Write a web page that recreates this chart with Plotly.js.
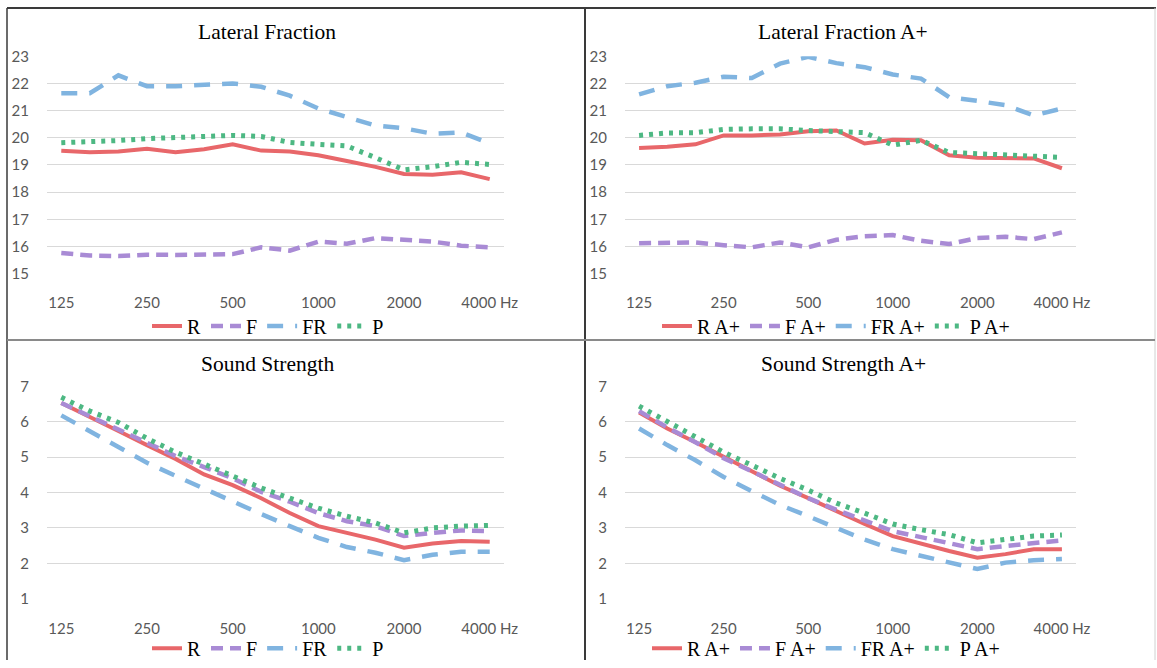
<!DOCTYPE html>
<html>
<head>
<meta charset="utf-8">
<script src="https://cdn.plot.ly/plotly-3.0.1.min.js"></script>
<style>html,body{margin:0;padding:0;background:#fff;}#chart{width:1157px;height:668px;}</style>
</head>
<body>
<div id="chart"></div>
<script>
// ---- data ----
const bands = ['125','160','200','250','315','400','500','630','800','1000','1250','1600','2000','2500','3150','4000'];
const tickBands = ['125','250','500','1000','2000','4000'];
const tickLabels = ['125','250','500','1000','2000','4000 Hz'];
const panelTitles = ['Lateral Fraction','Lateral Fraction A+','Sound Strength','Sound Strength A+'];
const seriesNames = ['R','F','FR','P'];
const seriesNamesA = ['R A+','F A+','FR A+','P A+'];

const lfR  = [19.52,19.47,19.50,19.60,19.47,19.58,19.76,19.53,19.50,19.36,19.15,18.93,18.67,18.64,18.73,18.48];
const lfF  = [15.76,15.67,15.65,15.70,15.69,15.72,15.72,15.97,15.85,16.18,16.10,16.31,16.25,16.18,16.03,15.97];
const lfFR = [21.64,21.64,22.30,21.90,21.90,21.93,22.00,21.88,21.55,21.08,20.76,20.45,20.35,20.15,20.20,19.79];
const lfP  = [19.82,19.85,19.90,19.97,20.02,20.03,20.09,20.05,19.83,19.76,19.70,19.27,18.82,18.94,19.10,19.02];

const lfaR  = [19.63,19.67,19.76,20.09,20.09,20.12,20.24,20.27,19.79,19.93,19.91,19.36,19.27,19.27,19.24,18.88];
const lfaF  = [16.12,16.12,16.15,16.05,15.97,16.15,15.97,16.25,16.38,16.42,16.21,16.09,16.31,16.36,16.27,16.52];
const lfaFR = [21.60,21.90,22.03,22.25,22.20,22.73,22.98,22.75,22.60,22.33,22.18,21.50,21.36,21.20,20.82,21.08];
const lfaP  = [20.09,20.18,20.19,20.31,20.33,20.33,20.27,20.24,20.19,19.73,19.91,19.46,19.42,19.36,19.36,19.28];

const ssR  = [6.53,6.12,5.74,5.34,4.95,4.51,4.21,3.84,3.42,3.05,2.86,2.67,2.44,2.56,2.63,2.61];
const ssF  = [6.53,6.16,5.79,5.42,5.03,4.72,4.40,4.02,3.74,3.42,3.19,3.05,2.77,2.86,2.93,2.91];
const ssFR = [6.18,5.74,5.30,4.84,4.47,4.10,3.74,3.39,3.05,2.72,2.46,2.30,2.09,2.24,2.33,2.33];
const ssP  = [6.69,6.30,5.98,5.53,5.14,4.81,4.49,4.13,3.84,3.56,3.33,3.14,2.86,3.00,3.05,3.07];

const ssaR  = [6.26,5.81,5.42,5.00,4.58,4.19,3.84,3.47,3.11,2.77,2.55,2.35,2.16,2.26,2.40,2.40];
const ssaF  = [6.30,5.84,5.42,4.97,4.60,4.21,3.84,3.51,3.20,2.91,2.74,2.58,2.40,2.49,2.58,2.65];
const ssaFR = [5.81,5.34,4.91,4.44,4.04,3.65,3.33,3.00,2.67,2.40,2.21,2.02,1.84,2.02,2.09,2.12];
const ssaP  = [6.44,6.02,5.56,5.14,4.77,4.40,4.07,3.70,3.42,3.11,2.95,2.81,2.58,2.67,2.77,2.80];

// ---- styling ----
const W = 1157, H = 668;
const px = v => v / W;
const py = v => 1 - v / H;
const styles = [
  {color:'#E8676A', width:4, dash:'solid'},
  {color:'#A98BD5', width:4.5, dash:'12px,7px'},
  {color:'#80B4E0', width:4.5, dash:'16px,12px'},
  {color:'#4DB883', width:5, dash:'4px,6px'}
];
const panels = [
  {series:[lfR,lfF,lfFR,lfP], names:seriesNames, ax:'', x:[47,504], y:[57,277], range:[15,23], xlen:15},
  {series:[lfaR,lfaF,lfaFR,lfaP], names:seriesNamesA, ax:'2', x:[625,1076], y:[57,277], range:[15,23], xlen:15},
  {series:[ssR,ssF,ssFR,ssP], names:seriesNames, ax:'3', x:[47,504], y:[391,606], range:[1,7], xlen:16},
  {series:[ssaR,ssaF,ssaFR,ssaP], names:seriesNamesA, ax:'4', x:[625,1076], y:[391,606], range:[1,7], xlen:16}
];
const titlePos = [[267,32],[843,32],[267,368],[843,368]];
const legendPos = [[268,330],[836,330],[268,656],[826,656]];

const traces = [];
const layout = {
  width: W, height: H,
  margin: {l:0, r:0, t:0, b:0},
  paper_bgcolor: '#fff', plot_bgcolor: '#fff',
  annotations: [], shapes: []
};
const tickFont = {family:'Lato, "Open Sans", sans-serif', size:15, color:'#595959'};
const serif = '"Liberation Serif", "Times New Roman", serif';

panels.forEach((p, k) => {
  const legName = k === 0 ? 'legend' : 'legend' + (k + 1);
  p.series.forEach((vals, s) => {
    traces.push({
      type:'scatter', mode:'lines', x:bands, y:vals, name:p.names[s],
      xaxis:'x' + p.ax, yaxis:'y' + p.ax, legend:legName,
      line:{color:styles[s].color, width:styles[s].width, dash:styles[s].dash},
      hoverinfo:'skip'
    });
  });
  layout['xaxis' + p.ax] = {
    domain:[px(p.x[0]), px(p.x[1])], anchor:'y' + p.ax,
    type:'category', categoryorder:'array', categoryarray:bands,
    range:[-0.5, 15.5], tickvals:tickBands, ticktext:tickLabels,
    showgrid:false, zeroline:false, showline:false,
    ticks:'outside', ticklen:p.xlen, tickcolor:'rgba(0,0,0,0)',
    tickfont:tickFont, fixedrange:true
  };
  layout['yaxis' + p.ax] = {
    domain:[py(p.y[1]), py(p.y[0])], anchor:'x' + p.ax,
    range:p.range, dtick:1, tick0:p.range[0],
    showgrid:true, gridcolor:'#D9D9D9', gridwidth:1,
    zeroline:false, showline:false,
    ticks:'outside', ticklen:14, tickcolor:'rgba(0,0,0,0)',
    tickfont:tickFont, fixedrange:true
  };
  layout[legName] = {
    orientation:'h', x:px(legendPos[k][0]), y:py(legendPos[k][1]),
    xanchor:'center', yanchor:'middle',
    font:{family:serif, size:20, color:'#000'},
    bgcolor:'rgba(0,0,0,0)', itemwidth:30, tracegroupgap:0,
    itemclick:false, itemdoubleclick:false
  };
  layout.annotations.push({
    xref:'paper', yref:'paper', x:px(titlePos[k][0]), y:py(titlePos[k][1]),
    xanchor:'center', yanchor:'middle', showarrow:false,
    text:panelTitles[k], font:{family:serif, size:21.5, color:'#000'}
  });
});

// panel borders
const line = (x0,y0,x1,y1,c,w) => ({type:'line', xref:'paper', yref:'paper',
  x0:px(x0), y0:py(y0), x1:px(x1), y1:py(y1), line:{color:c, width:w}});
layout.shapes.push(line(7,8,1156,8,'#3a3a3a',2));
layout.shapes.push(line(7,8,7,668,'#3a3a3a',1.5));
layout.shapes.push(line(1155,8,1155,668,'#d0d0d0',1));
layout.shapes.push(line(585,8,585,668,'#3a3a3a',2));
layout.shapes.push(line(7,344,1155,344,'#8a8a8a',2));

Plotly.newPlot('chart', traces, layout, {staticPlot:true, displayModeBar:false});
</script>
</body>
</html>
